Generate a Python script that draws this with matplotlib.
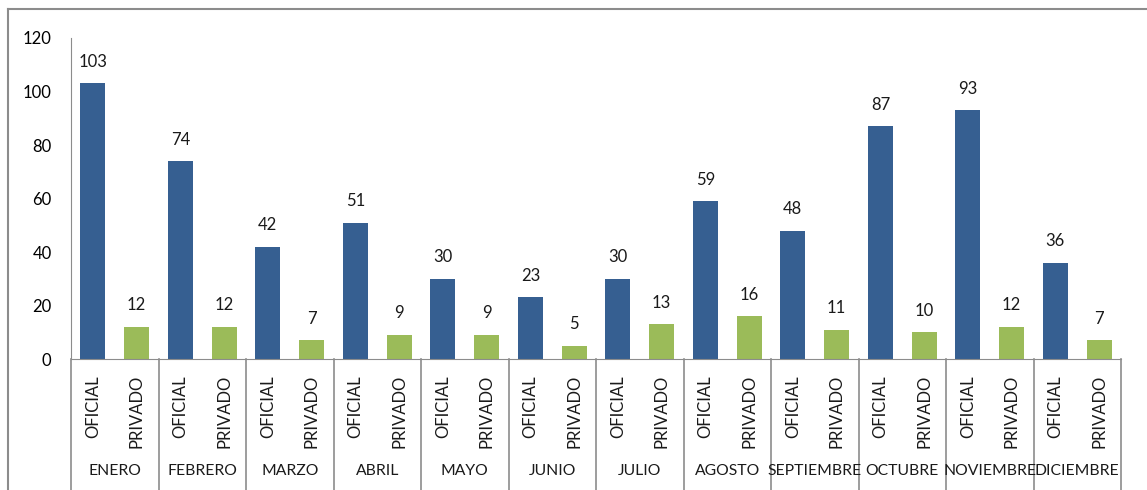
import matplotlib
matplotlib.use("Agg")
import matplotlib.pyplot as plt
from matplotlib.lines import Line2D
from matplotlib.transforms import blended_transform_factory

# Data
months = ['ENERO', 'FEBRERO', 'MARZO', 'ABRIL', 'MAYO', 'JUNIO',
          'JULIO', 'AGOSTO', 'SEPTIEMBRE', 'OCTUBRE', 'NOVIEMBRE', 'DICIEMBRE']
types = ['OFICIAL', 'PRIVADO']
oficial = [103, 74, 42, 51, 30, 23, 30, 59, 48, 87, 93, 36]
privado = [12, 12, 7, 9, 9, 5, 13, 16, 11, 10, 12, 7]

blue = '#365f91'
green = '#9bbb59'
grey = '#8c8c8c'

plt.rcParams['font.family'] = ['Lato', 'DejaVu Sans']

W, H = 1147, 490
fig = plt.figure(figsize=(W / 100, H / 100), dpi=100)
ax = fig.add_axes([71 / W, (H - 359) / H, (1121 - 71) / W, (359 - 38) / H])

x_of = [2 * i for i in range(len(months))]
x_pr = [2 * i + 1 for i in range(len(months))]
ax.bar(x_of, oficial, width=0.57, color=blue)
ax.bar(x_pr, privado, width=0.57, color=green)

for xs, vals in ((x_of, oficial), (x_pr, privado)):
    for x, v in zip(xs, vals):
        ax.annotate(str(v), (x, v), xytext=(0, 15.5), textcoords='offset points',
                    ha='center', va='center', fontsize=12, color='#1a1a1a')

ax.set_xlim(-0.5, 2 * len(months) - 0.5)
ax.set_ylim(0, 120)
ax.set_yticks(range(0, 121, 20))
ax.tick_params(axis='y', length=0, pad=14, labelsize=12)
ax.tick_params(axis='x', length=0)
ax.set_xticks([])
for s in ('top', 'right'):
    ax.spines[s].set_visible(False)
ax.spines['left'].set_color(grey)
ax.spines['bottom'].set_color(grey)

# Two-level category axis
trans = blended_transform_factory(ax.transData, ax.transAxes)
for i, m in enumerate(months):
    for j, t in enumerate(types):
        ax.text(2 * i + j, -0.05, t, rotation=90, ha='center', va='top',
                fontsize=12, transform=trans, color='#1a1a1a')
    ax.text(2 * i + 0.5, -0.35, m, ha='center', va='center',
            fontsize=11.3, transform=trans, color='#1a1a1a')
for k in range(len(months) + 1):
    ax.plot([2 * k - 0.5, 2 * k - 0.5], [0, -0.45], color=grey, lw=1.2,
            transform=trans, clip_on=False)

# Chart outer border
fig.add_artist(Line2D([8 / W, 8 / W], [0, (H - 9) / H], color=grey, lw=1.5,
                      transform=fig.transFigure))
fig.add_artist(Line2D([8 / W, 1], [(H - 9) / H, (H - 9) / H], color=grey, lw=1.5,
                      transform=fig.transFigure))

fig.savefig('out.png', dpi=100)
